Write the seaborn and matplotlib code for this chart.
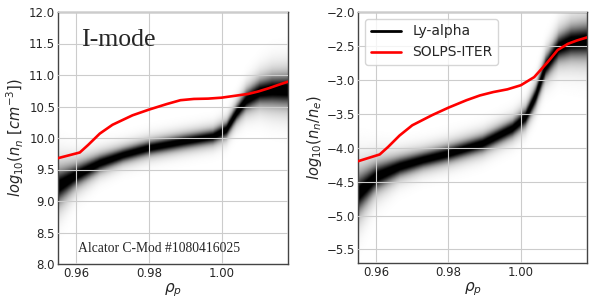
import numpy as np
import pandas as pd
import matplotlib
matplotlib.use("Agg")
import matplotlib.pyplot as plt
import seaborn as sns
from matplotlib.lines import Line2D

# ---- data ----
# SOLPS-ITER (red) curves
solps_rho = [0.955, 0.961, 0.9633, 0.9665, 0.970, 0.9755, 0.980, 0.985, 0.9887, 0.9924, 0.9963, 1.000, 1.0037, 1.0074, 1.0102, 1.013, 1.0155, 1.0186]
solps_nn = [9.68, 9.77, 9.89, 10.07, 10.21, 10.36, 10.45, 10.54, 10.60, 10.62, 10.625, 10.64, 10.67, 10.70, 10.74, 10.79, 10.84, 10.90]
solps_frac = [-4.20, -4.10, -3.99, -3.82, -3.67, -3.52, -3.41, -3.30, -3.23, -3.18, -3.14, -3.08, -2.96, -2.74, -2.56, -2.47, -2.42, -2.37]

# Ly-alpha inferred profiles: centre and width of the probability band
lya_rho = [0.955, 0.960, 0.9665, 0.973, 0.980, 0.9895, 0.9977, 1.0014, 1.0041, 1.0069, 1.0106, 1.0140, 1.0186]
lya_nn = [9.23, 9.41, 9.60, 9.73, 9.84, 9.94, 10.02, 10.13, 10.39, 10.60, 10.73, 10.76, 10.76]
lya_nn_sig = [0.15, 0.10, 0.075, 0.065, 0.065, 0.065, 0.065, 0.07, 0.075, 0.09, 0.11, 0.13, 0.14]
lya_frac = [-4.68, -4.43, -4.28, -4.18, -4.09, -3.94, -3.72, -3.55, -3.25, -2.81, -2.52, -2.44, -2.42]
lya_frac_sig = [0.16, 0.11, 0.08, 0.07, 0.07, 0.07, 0.07, 0.075, 0.08, 0.09, 0.11, 0.13, 0.14]

xlim = (0.955, 1.0183)
ylims = [(8.0, 12.0), (-5.7, -2.0)]
xticks = [0.96, 0.98, 1.00]
yticks = [np.arange(8.0, 12.01, 0.5), np.arange(-5.5, -1.99, 0.5)]
ylabels = [r"$log_{10}(n_n\ [cm^{-3}])$", r"$log_{10}(n_n/n_e)$"]

sns.set_theme(style="whitegrid")
plt.rcParams["font.family"] = ["DejaVu Sans"]

fig = plt.figure(figsize=(6.06, 3.03), dpi=100)
ax1 = fig.add_axes([58/606, 1-264/303, 230/606, 252/303])
ax2 = fig.add_axes([358/606, 1-263/303, 229/606, 251/303])

def band(ax, rho, mu, sig, ylim):
    xs = np.linspace(xlim[0], xlim[1], 400)
    ys = np.linspace(ylim[0], ylim[1], 600)
    m = np.interp(xs, rho, mu)
    s = np.interp(xs, rho, sig)
    Y, M = np.meshgrid(ys, m, indexing="ij")
    S = np.broadcast_to(s, Y.shape)
    z = (Y - M) / S
    dens = 0.65 * np.exp(-0.5 * z ** 2) + 0.35 * np.exp(-0.5 * (z / 2.0) ** 2)
    ax.imshow(dens, extent=[xlim[0], xlim[1], ylim[0], ylim[1]], origin="lower",
              aspect="auto", cmap="gray_r", vmin=0.0, vmax=0.9, interpolation="bilinear",
              zorder=1)

for ax, mu, sig, sol, yl, yt, lab in [
    (ax1, lya_nn, lya_nn_sig, solps_nn, ylims[0], yticks[0], ylabels[0]),
    (ax2, lya_frac, lya_frac_sig, solps_frac, ylims[1], yticks[1], ylabels[1]),
]:
    band(ax, lya_rho, mu, sig, yl)
    sns.lineplot(x=solps_rho, y=sol, ax=ax, color="red", lw=1.9, legend=False, zorder=5)
    ax.set_xlim(*xlim)
    ax.set_ylim(*yl)
    ax.set_xticks(xticks)
    ax.set_xticklabels(["0.96", "0.98", "1.00"])
    ax.set_yticks(yt)
    ax.set_yticklabels([f"{v:.1f}".replace("-", "\u2212") for v in yt])
    ax.tick_params(labelsize=8.5, length=0, pad=2)
    ax.set_xlabel(r"$\rho_p$", fontsize=11, labelpad=1)
    ax.set_ylabel(lab, fontsize=10.5, labelpad=2)
    ax.grid(True, color="#cccccc", lw=0.8)
    ax.set_axisbelow(False)
    for sp in ax.spines.values():
        sp.set_color("#444444")
        sp.set_linewidth(1.0)
    ax.set_facecolor("white")

for gl in ax1.get_xgridlines() + ax1.get_ygridlines() + ax2.get_xgridlines() + ax2.get_ygridlines():
    gl.set_zorder(0.5)

ax1.text(0.9613, 11.55, "I-mode", fontsize=18.5, family="Liberation Serif", va="center", ha="left")
ax1.text(0.9605, 8.25, "Alcator C-Mod #1080416025", fontsize=9.8, family="Liberation Serif",
         va="center", ha="left")

handles = [Line2D([], [], color="black", lw=2), Line2D([], [], color="red", lw=1.9)]
ax2.legend(handles, ["Ly-alpha", "SOLPS-ITER"], loc="upper left", fontsize=10, frameon=True,
           framealpha=0.8, edgecolor="#cccccc", borderaxespad=0.5, handlelength=2.2)

fig.savefig("out.png", dpi=100)
